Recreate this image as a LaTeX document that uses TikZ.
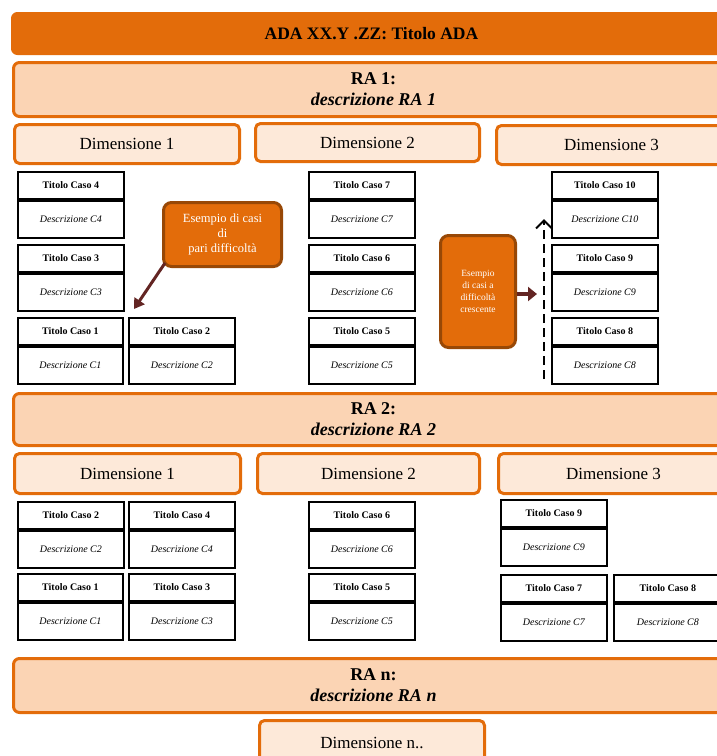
\documentclass[tikz,border=0pt]{standalone}
\usepackage{fontspec}
\setmainfont{Liberation Serif}
\usetikzlibrary{arrows.meta}
\definecolor{dorange}{HTML}{E36C0A}
\definecolor{peach}{HTML}{FBD4B4}
\definecolor{lpeach}{HTML}{FDE9D9}
\definecolor{cbrown}{HTML}{984806}
\definecolor{arred}{HTML}{632523}
\tikzset{
  titlebox/.style={fill=dorange, draw=dorange, rounded corners=6pt, line width=1pt, anchor=north west, inner sep=0pt,
    font=\fontsize{17.5}{19}\selectfont\bfseries},
  rabox/.style={fill=peach, draw=dorange, rounded corners=6pt, line width=3pt, anchor=north west, inner sep=0pt, align=center,
    font=\fontsize{18}{21}\selectfont\bfseries},
  dimbox/.style={fill=lpeach, draw=dorange, rounded corners=5pt, line width=3pt, anchor=north west, inner sep=0pt,
    font=\fontsize{17}{19}\selectfont},
  casot/.style={draw=black, line width=1.8pt, fill=white, minimum height=27pt, inner sep=0pt,
    font=\fontsize{10}{11}\selectfont\bfseries},
  casod/.style={draw=black, line width=1.8pt, fill=white, minimum height=37pt, inner sep=0pt,
    font=\fontsize{10}{11}\selectfont\itshape},
  callout/.style={fill=dorange, draw=cbrown, line width=3pt, rounded corners=8pt, text=white, align=center, inner sep=0pt, anchor=north west},
}
\newcommand\caso[6]{%
  \node[casot, minimum width=#4pt, anchor=north west] (#1t) at (#2,#3) {#5};
  \node[casod, minimum width=#4pt, anchor=north] (#1d) at (#1t.south) {#6};
}
\begin{document}
\begin{tikzpicture}[x=1pt,y=-1pt]
\useasboundingbox (0,0) rectangle (717,756);
\clip (0,0) rectangle (717,756);
% title
\node[titlebox, minimum width=720pt, minimum height=42pt] (title) at (11,12) {ADA XX.Y .ZZ: Titolo ADA};
% RA 1
\node[rabox, minimum width=720pt, minimum height=54pt] (ra1) at (12,61) {RA 1:\\\textit{descrizione RA 1}};
\node[dimbox, minimum width=225pt, minimum height=39pt] (d11) at (13,123) {Dimensione 1};
\node[dimbox, minimum width=224pt, minimum height=38pt] (d12) at (254,122) {Dimensione 2};
\node[dimbox, minimum width=230pt, minimum height=39pt] (d13) at (495,124) {Dimensione 3};
% cases RA1
\caso{a4}{17}{171}{106}{Titolo Caso 4}{Descrizione C4}
\caso{a3}{17}{244}{106}{Titolo Caso 3}{Descrizione C3}
\caso{a1}{17}{317}{105}{Titolo Caso 1}{Descrizione C1}
\caso{a2}{128}{317}{106}{Titolo Caso 2}{Descrizione C2}
\caso{a7}{308}{171}{106}{Titolo Caso 7}{Descrizione C7}
\caso{a6}{308}{244}{106}{Titolo Caso 6}{Descrizione C6}
\caso{a5}{308}{317}{106}{Titolo Caso 5}{Descrizione C5}
\caso{a10}{551}{171}{106}{Titolo Caso 10}{Descrizione C10}
\caso{a9}{551}{244}{106}{Titolo Caso 9}{Descrizione C9}
\caso{a8}{551}{317}{106}{Titolo Caso 8}{Descrizione C8}
% callouts
\node[callout, minimum width=118pt, minimum height=64pt, font=\fontsize{12.5}{15}\selectfont] (c1) at (162,201) {Esempio di casi\\di\\pari difficoltà};
\coordinate (c1end) at (134,309);
\draw[arred, line width=3pt, -{Triangle[length=10pt,width=12pt]}] (165,263) -- (c1end);
\node[callout, minimum width=75pt, minimum height=112pt, font=\fontsize{9.5}{12}\selectfont] (c2) at (439,234) {Esempio\\di casi a\\difficoltà\\crescente};
\coordinate (c2end) at (537,294);
\draw[arred, line width=4pt, -{Triangle[length=9pt,width=14pt]}] (c2.east |- c2end) -- (c2end);
\coordinate (dashs) at (544,379);
\coordinate (dashe) at (544,219);
\draw[black, line width=2pt, dash pattern=on 9pt off 5pt, -{Straight Barb[length=8pt,width=16pt]}] (dashs) -- (dashe);
% RA 2
\node[rabox, minimum width=720pt, minimum height=52pt] (ra2) at (12,392) {RA 2:\\\textit{descrizione RA 2}};
\node[dimbox, minimum width=226pt, minimum height=40pt] (d21) at (13,452) {Dimensione 1};
\node[dimbox, minimum width=222pt, minimum height=40pt] (d22) at (256,452) {Dimensione 2};
\node[dimbox, minimum width=230pt, minimum height=40pt] (d23) at (497,452) {Dimensione 3};
\caso{b2}{17}{501}{106}{Titolo Caso 2}{Descrizione C2}
\caso{b4}{128}{501}{106}{Titolo Caso 4}{Descrizione C4}
\caso{b1}{17}{573}{105}{Titolo Caso 1}{Descrizione C1}
\caso{b3}{128}{573}{106}{Titolo Caso 3}{Descrizione C3}
\caso{b6}{308}{501}{106}{Titolo Caso 6}{Descrizione C6}
\caso{b5}{308}{573}{106}{Titolo Caso 5}{Descrizione C5}
\caso{b9}{500}{499}{106}{Titolo Caso 9}{Descrizione C9}
\caso{b7}{500}{574}{106}{Titolo Caso 7}{Descrizione C7}
\caso{b8}{613}{574}{108}{Titolo Caso 8}{Descrizione C8}
% RA n
\node[rabox, minimum width=720pt, minimum height=54pt] (ran) at (12,657) {RA n:\\\textit{descrizione RA n}};
\node[dimbox, minimum width=225pt, minimum height=44pt] (dn) at (258,719) {Dimensione n..};
\end{tikzpicture}
\end{document}
